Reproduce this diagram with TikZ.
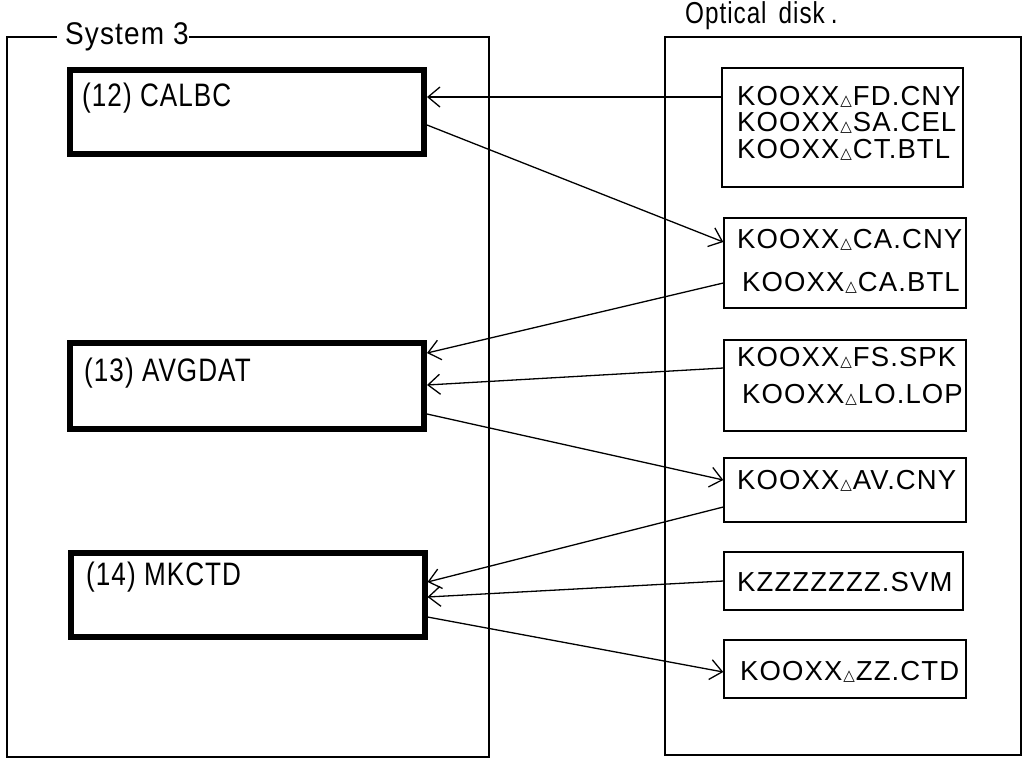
\documentclass[tikz,border=0pt]{standalone}
\usepackage{fontspec}
\setmainfont{Liberation Sans}[LetterSpace=4]
\newfontfamily\dvfont{DejaVu Sans}
\usetikzlibrary{arrows.meta}
\newcommand\tri{\hspace{1pt}{\dvfont\fontsize{15}{15}\selectfont △}\hspace{1pt}}
\newcommand\hw[1]{\scalebox{0.9}[1.12]{#1}}
\begin{document}
\begin{tikzpicture}[x=1pt,y=-1pt,
  frame/.style={draw, line width=1.6pt, inner sep=0pt},
  prog/.style={draw, line width=6pt, minimum width=354pt, inner sep=0pt},
  file/.style={draw, line width=1.4pt, inner sep=0pt},
  lbl/.style={anchor=west, inner sep=0pt, font=\fontsize{29}{31}\selectfont},
  fname/.style={anchor=west, inner sep=0pt, font=\fontsize{27.5}{29}\selectfont},
  ttl/.style={anchor=west, inner sep=0pt, font=\fontsize{28}{30}\selectfont},
  dttl/.style={anchor=west, inner sep=0pt, font=\fontsize{27}{29}\selectfont},
  arr/.style={line width=1.3pt, -{Straight Barb[length=12pt,width=20pt,line width=1.3pt]}}
]
\useasboundingbox (0,0) rectangle (1025,764);

% containers
\node[frame, minimum width=482pt, minimum height=720pt] (sys) at (248,397) {};
\node[ttl, fill=white, inner ysep=3pt] (systitle) at (57,37) {\hspace{8pt}\scalebox{1}[1.12]{System 3}\hspace{27pt}};
\node[frame, minimum width=356pt, minimum height=718pt] (disk) at (843,396) {};
\node[dttl] (disktitle) at (685,16) {\hw{Optical}\hspace{12pt}\hw{disk}\hspace{6pt}\hw{.}};

% programs
\node[prog, minimum height=84pt] (calbc) at (247,112) {};
\node[lbl] (t12) at (82,98) {\hw{(12) CALBC}};
\node[prog, minimum height=86pt] (avg) at (247,386) {};
\node[lbl] (t13) at (84,373) {\hw{(13) AVGDAT}};
\node[prog, minimum height=84pt] (mk) at (247.5,595) {};
\node[lbl] (t14) at (86,577) {\hw{(14) MKCTD}};

% files
\node[file, minimum width=241pt, minimum height=119pt] (f1) at (842.5,127.5) {};
\node[fname] (f1a) at (737,97) {KOOXX\tri FD.CNY};
\node[fname] (f1b) at (737,123) {KOOXX\tri SA.CEL};
\node[fname] (f1c) at (737,150) {KOOXX\tri CT.BTL};

\node[file, minimum width=242pt, minimum height=90pt] (f2) at (845,263) {};
\node[fname] (f2a) at (737,240) {KOOXX\tri CA.CNY};
\node[fname] (f2b) at (742,283) {KOOXX\tri CA.BTL};

\node[file, minimum width=242pt, minimum height=91pt] (f3) at (845,385.5) {};
\node[fname] (f3a) at (737,358) {KOOXX\tri FS.SPK};
\node[fname] (f3b) at (742,395) {KOOXX\tri LO.LOP};

\node[file, minimum width=242pt, minimum height=64pt] (f4) at (845,490) {};
\node[fname] (f4a) at (737,481) {KOOXX\tri AV.CNY};

\node[file, minimum width=239pt, minimum height=58pt] (f5) at (843.5,581) {};
\node[fname] (f5a) at (737,582) {KZZZZZZZ.SVM};

\node[file, minimum width=242pt, minimum height=58pt] (f6) at (845,669) {};
\node[fname] (f6a) at (740,672) {KOOXX\tri ZZ.CTD};

% connectors
\draw[arr] (f1.west |- 0,97) -- (calbc.east |- 0,97);
\draw[arr] (calbc.east |- 0,125) -- (f2.west |- 0,242);
\draw[arr] (f2.west |- 0,283) -- (avg.east |- 0,353);
\draw[arr] (f3.west |- 0,368) -- (avg.east |- 0,385);
\draw[arr] (avg.east |- 0,414) -- (f4.west |- 0,480);
\draw[arr] (f4.west |- 0,507) -- (mk.east |- 0,582);
\draw[arr] (f5.west |- 0,581) -- (mk.east |- 0,597);
\draw[arr] (mk.east |- 0,617) -- (f6.west |- 0,672);
\end{tikzpicture}
\end{document}
